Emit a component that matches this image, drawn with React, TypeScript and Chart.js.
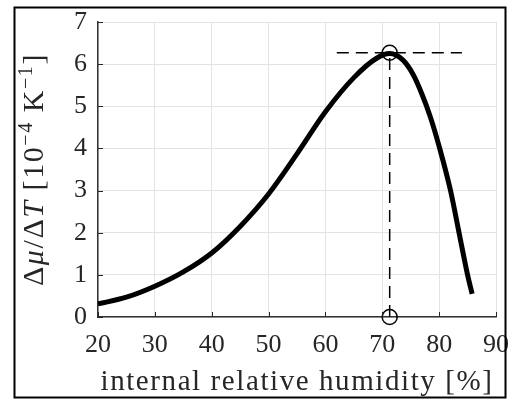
import React, { useEffect, useRef } from 'react';
import { Chart, registerables } from 'chart.js';

Chart.register(...registerables);

// ---- data ----
const humidity = [20, 25, 30, 35, 40, 45, 50, 55, 60, 65, 69, 71.3, 73.6, 75.4, 77, 78.5, 80.1, 82, 83.5, 85, 85.8];
const slope = [0.31, 0.47, 0.73, 1.07, 1.52, 2.15, 2.92, 3.87, 4.87, 5.68, 6.14, 6.25, 6.1, 5.76, 5.28, 4.73, 4.0, 3.0, 2.0, 1.0, 0.55];
const peakHumidity = 71.3;
const peakSlope = 6.27;
const peakLineFrom = 62;
const peakLineTo = 84;
const xTicks = [20, 30, 40, 50, 60, 70, 80, 90];
const yTicks = [0, 1, 2, 3, 4, 5, 6, 7];
const xTitle = 'internal relative humidity [%]';
const yTitleParts: { t: string; s: 'n' | 'i' | 'sup' }[] = [
  { t: 'Δ', s: 'n' },
  { t: 'μ', s: 'i' },
  { t: '/Δ', s: 'n' },
  { t: 'T', s: 'i' },
  { t: ' [10', s: 'n' },
  { t: '−4', s: 'sup' },
  { t: ' K', s: 'n' },
  { t: '−1', s: 'sup' },
  { t: ']', s: 'n' },
];

const SERIF = '"Liberation Serif", "Times New Roman", serif';
const TEXT = '#262626';

export default function App() {
  const ref = useRef<HTMLCanvasElement>(null);

  useEffect(() => {
    const canvas = ref.current;
    if (!canvas) return;

    const framePlugin = {
      id: 'frame',
      afterDraw(chart: any) {
        const c: CanvasRenderingContext2D = chart.ctx;
        const { left, right, top, bottom } = chart.chartArea;
        const xs = chart.scales.x;
        const ys = chart.scales.y;
        c.save();
        // inward tick marks
        c.strokeStyle = TEXT;
        c.lineWidth = 1;
        c.beginPath();
        for (const v of xTicks) {
          const px = Math.round(xs.getPixelForValue(v)) + 0.5;
          c.moveTo(px, bottom);
          c.lineTo(px, bottom - 5);
        }
        for (const v of yTicks) {
          const py = Math.round(ys.getPixelForValue(v)) + 0.5;
          c.moveTo(left, py);
          c.lineTo(left + 5, py);
        }
        c.stroke();

        // x title
        c.fillStyle = TEXT;
        c.textBaseline = 'alphabetic';
        c.textAlign = 'left';
        c.font = `29px ${SERIF}`;
        (c as any).letterSpacing = '0px';
        const xTarget = 393;
        const w0 = c.measureText(xTitle).width;
        const ls = (xTarget - w0) / xTitle.length;
        (c as any).letterSpacing = `${ls}px`;
        const w1 = c.measureText(xTitle).width;
        c.fillText(xTitle, (left + right) / 2 - w1 / 2, 390);

        // y title (rotated)
        const fontFor = (s: string) =>
          s === 'i' ? `italic 30px ${SERIF}` : s === 'sup' ? `20px ${SERIF}` : `30px ${SERIF}`;
        (c as any).letterSpacing = '0px';
        let raw = 0;
        let nChars = 0;
        for (const p of yTitleParts) {
          c.font = fontFor(p.s);
          raw += c.measureText(p.t).width;
          nChars += p.t.length;
        }
        const yTarget = 233;
        const yls = (yTarget - raw) / nChars;
        (c as any).letterSpacing = `${yls}px`;
        let total = 0;
        const widths: number[] = [];
        for (const p of yTitleParts) {
          c.font = fontFor(p.s);
          const w = c.measureText(p.t).width;
          widths.push(w);
          total += w;
        }
        c.translate(43, (top + bottom) / 2);
        c.rotate(-Math.PI / 2);
        let cx = -total / 2;
        yTitleParts.forEach((p, i) => {
          c.font = fontFor(p.s);
          c.fillText(p.t, cx, p.s === 'sup' ? -11 : 0);
          cx += widths[i];
        });
        c.setTransform(1, 0, 0, 1, 0, 0);
        (c as any).letterSpacing = '0px';

        // figure frame
        c.strokeStyle = '#000';
        c.lineWidth = 2;
        c.strokeRect(14.5, 7.5, 491, 390);
        c.restore();
      },
    };

    const curve = humidity.map((x, i) => ({ x, y: slope[i] }));

    const chart = new Chart(canvas, {
      type: 'line',
      data: {
        datasets: [
          {
            data: curve,
            borderColor: '#000',
            borderWidth: 5,
            pointRadius: 0,
            cubicInterpolationMode: 'monotone',
            borderJoinStyle: 'round',
            fill: false,
          },
          {
            data: [
              { x: peakLineFrom, y: peakSlope },
              { x: peakLineTo, y: peakSlope },
            ],
            borderColor: '#000',
            borderWidth: 1.5,
            borderDash: [12, 7],
            pointRadius: 0,
            tension: 0,
            fill: false,
          },
          {
            data: [
              { x: peakHumidity, y: 0 },
              { x: peakHumidity, y: peakSlope },
            ],
            borderColor: '#000',
            borderWidth: 1.5,
            borderDash: [12, 7],
            pointRadius: 0,
            tension: 0,
            fill: false,
          },
          {
            data: [
              { x: peakHumidity, y: peakSlope },
              { x: peakHumidity, y: 0 },
            ],
            showLine: false,
            borderColor: '#000',
            backgroundColor: 'rgba(0,0,0,0)',
            pointStyle: 'circle',
            pointRadius: 7.5,
            pointBorderWidth: 1.5,
            clip: false,
          } as any,
        ],
      },
      options: {
        responsive: false,
        animation: false,
        events: [],
        layout: { padding: { left: 14, right: 14, top: 22, bottom: 0 } },
        plugins: {
          legend: { display: false },
          tooltip: { enabled: false },
          title: { display: false },
        },
        scales: {
          x: {
            type: 'linear',
            min: 20,
            max: 90,
            afterFit: (s: any) => {
              s.height = 82;
              s.paddingLeft = 0;
              s.paddingRight = 0;
            },
            ticks: {
              stepSize: 10,
              color: TEXT,
              font: { family: SERIF, size: 26 },
              padding: 13,
              maxRotation: 0,
            },
            grid: { color: '#e3e3e3', lineWidth: 1, drawTicks: false },
            border: { color: '#333', width: 1.5 },
          },
          y: {
            type: 'linear',
            min: 0,
            max: 7,
            afterFit: (s: any) => {
              s.width = 84;
              s.paddingTop = 0;
              s.paddingBottom = 0;
            },
            ticks: {
              stepSize: 1,
              color: TEXT,
              font: { family: SERIF, size: 26 },
              padding: 11,
            },
            grid: { color: '#e3e3e3', lineWidth: 1, drawTicks: false },
            border: { color: '#333', width: 1.5 },
          },
        },
      },
      plugins: [framePlugin],
    } as any);

    return () => chart.destroy();
  }, []);

  return (
    <div style={{ position: 'absolute', left: 0, top: 0, width: 510, height: 399, background: '#fff' }}>
      <canvas ref={ref} width={510} height={399} style={{ display: 'block' }} />
    </div>
  );
}
